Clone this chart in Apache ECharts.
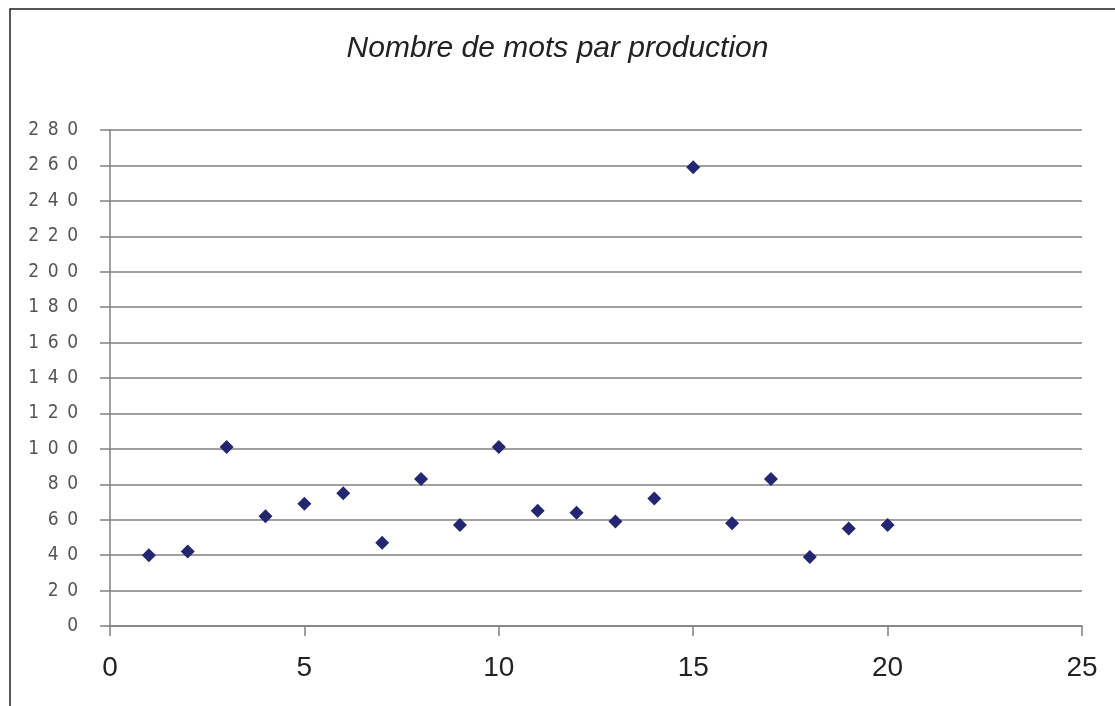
<!DOCTYPE html>
<html><head><meta charset="utf-8">
<script src="https://cdn.jsdelivr.net/npm/echarts@6/dist/echarts.min.js"></script>
<style>html,body{margin:0;padding:0;background:#fff}#c{width:1115px;height:706px}</style>
</head><body><div id="c"></div>
<script>
const titleText = "Nombre de mots par production";
const productions = [1,2,3,4,5,6,7,8,9,10,11,12,13,14,15,16,17,18,19,20];
const wordCounts = [40,42,101,62,69,75,47,83,57,101,65,64,59,72,259,58,83,39,55,57];
const yTicks = {min:0, max:280, interval:20};
const xTicks = {min:0, max:25, interval:5};

const chart = echarts.init(document.getElementById('c'), null, {renderer:'canvas'});
chart.setOption({
  animation:false,
  backgroundColor:'#fff',
  title:{text:titleText, left:'center', top:29,
    textStyle:{fontFamily:'Liberation Sans', fontStyle:'italic', fontWeight:'normal', fontSize:30, color:'#222'}},
  graphic:[{type:'rect', shape:{x:10, y:9, width:1200, height:800},
    style:{fill:'none', stroke:'#222', lineWidth:1.5}, silent:true}],
  grid:{left:110, right:33, top:130, bottom:80, containLabel:false},
  xAxis:{type:'value', min:xTicks.min, max:xTicks.max, interval:xTicks.interval,
    axisLine:{show:true, onZero:false, lineStyle:{color:'#808080', width:1.5}},
    axisTick:{show:true, length:10, lineStyle:{color:'#808080', width:1.5}},
    axisLabel:{fontFamily:'Liberation Sans', fontSize:28, color:'#222', margin:28},
    splitLine:{show:false}},
  yAxis:{type:'value', min:yTicks.min, max:yTicks.max, interval:yTicks.interval,
    axisLine:{show:true, onZero:false, lineStyle:{color:'#808080', width:1.5}},
    axisTick:{show:true, length:10, lineStyle:{color:'#808080', width:1.5}},
    axisLabel:{fontFamily:'Liberation Sans Narrow, DejaVu Sans Condensed', fontSize:19, color:'#555', margin:32,
      formatter:v=>String(v).split('').join('\u2002')},
    splitLine:{show:true, lineStyle:{color:'#808080', width:1.5}}},
  series:[{type:'scatter', symbol:'diamond', symbolSize:14,
    itemStyle:{color:'#232670', opacity:1},
    data:productions.map((x,i)=>[x, wordCounts[i]])}]
});
</script></body></html>
